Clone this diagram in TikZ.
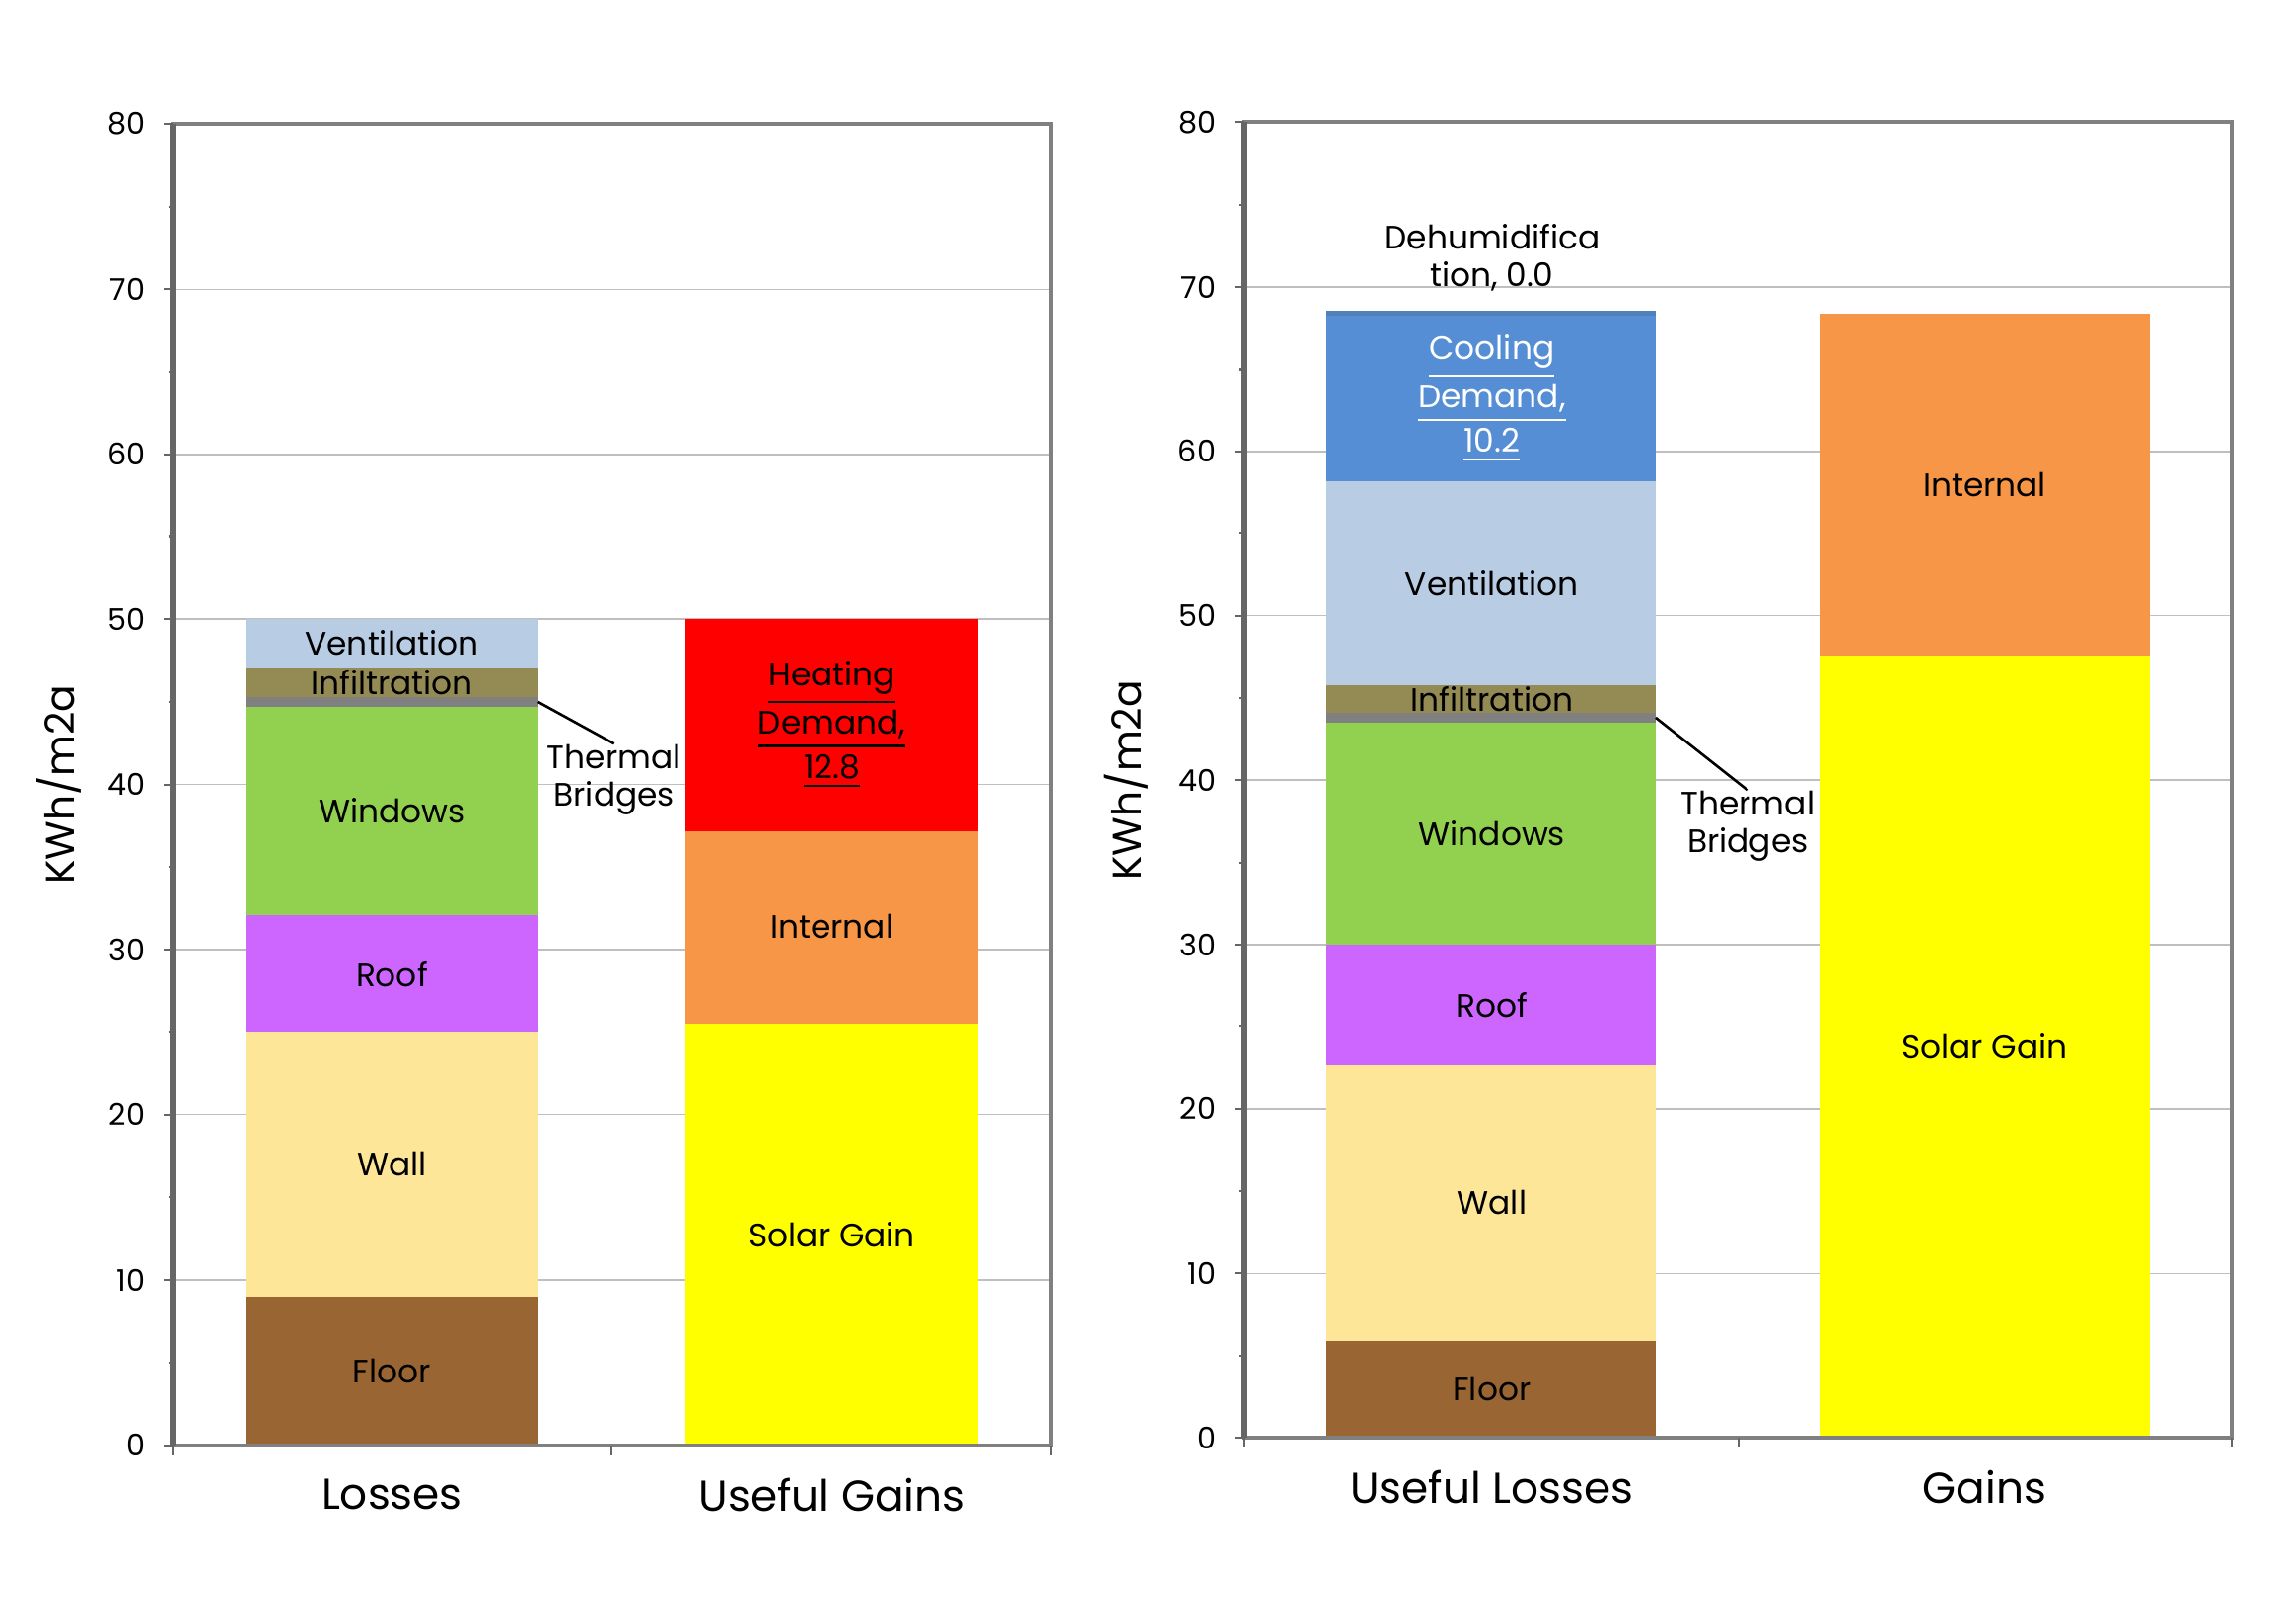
\documentclass[tikz,border=0pt]{standalone}
\usepackage{fontspec}
\setmainfont{Poppins}
\definecolor{cFloor}{RGB}{153,102,51}
\definecolor{cWall}{RGB}{254,230,153}
\definecolor{cRoof}{RGB}{204,102,255}
\definecolor{cWindows}{RGB}{146,208,80}
\definecolor{cBridges}{RGB}{128,128,128}
\definecolor{cInfil}{RGB}{148,138,84}
\definecolor{cVent}{RGB}{184,204,228}
\definecolor{cHeat}{RGB}{255,0,0}
\definecolor{cInternal}{RGB}{247,150,70}
\definecolor{cSolar}{RGB}{255,255,0}
\definecolor{cCool}{RGB}{85,142,213}
\definecolor{cDehum}{RGB}{79,129,189}
\tikzset{
  seg/.style={font=\fontsize{6.3}{7.2}\selectfont, align=center, inner sep=0pt},
  tick/.style={font=\fontsize{5.8}{7}\selectfont, anchor=east, inner sep=0pt},
  cat/.style={font=\fontsize{8.4}{10}\selectfont, inner sep=0pt},
  ylab/.style={font=\fontsize{7.8}{9}\selectfont, rotate=90, inner sep=0pt},
  grid/.style={draw=black!25, line width=0.3pt},
  frame/.style={draw=black!50, line width=0.8pt},
}
\begin{document}
\begin{tikzpicture}
\useasboundingbox (0,0) rectangle (15.6,-11.1);
% Left chart: heating
\begin{scope}[shift={(1.18,-9.88)}, x=0.01cm, y=0.1129cm]
    \foreach \v in {10,20,...,70} \draw[grid] (0,\v) -- (601,\v);
    % Losses
    \fill[cFloor] (50,0) rectangle (250,9);
    \fill[cWall] (50,9) rectangle (250,25);
    \fill[cRoof] (50,25) rectangle (250,32.1);
    \fill[cWindows] (50,32.1) rectangle (250,44.7);
    \fill[cBridges] (50,44.7) rectangle (250,45.3);
    \fill[cInfil] (50,45.3) rectangle (250,47.1);
    \fill[cVent] (50,47.1) rectangle (250,50);
    \node[seg] (FLOORL) at (150,4.5) {Floor};
    \node[seg] (WALLL) at (150,17) {Wall};
    \node[seg] (ROOFL) at (150,28.5) {Roof};
    \node[seg] (WINDL) at (150,38.4) {Windows};
    \node[seg] (INFILL) at (150,46.2) {Infiltration};
    \node[seg] (VENTL) at (150,48.6) {Ventilation};
    \coordinate (TBL) at (250,45.0);
    \node[seg] (BRIDGEL) at (302,40.3) {Thermal\\Bridges};
    \draw[line width=0.5pt] (TBL) -- (BRIDGEL.north);
    % Useful gains
    \fill[cSolar] (351,0) rectangle (551,25.5);
    \fill[cInternal] (351,25.5) rectangle (551,37.2);
    \fill[cHeat] (351,37.2) rectangle (551,50);
    \node[seg] (SOLARL) at (451,12.75) {Solar Gain};
    \node[seg] (INTL) at (451,31.4) {Internal};
    \node[seg] (HEATL) at (451,43.6) {\underline{Heating}\\\underline{Demand,}\\\underline{12.8}};
    % Axes
    \draw[frame] (0,0) rectangle (601,80);
    \draw[draw=black!60, line width=1.2pt] (0,0) -- (0,80);
    \foreach \v in {0,10,...,80} {
        \draw[black!60] (-6,\v) -- (0,\v);
        \node[tick] at (-18,\v) {\v};
    }
    \foreach \v in {5,15,...,75} \draw[black!60] (-3,\v) -- (0,\v);
    \foreach \x in {0,300,601} \draw[black!60] (\x,0) -- (\x,-0.6);
    \node[cat] (LOSSES) at (150,-3) {Losses};
    \node[cat] (GAINSL) at (451,-3) {Useful Gains};
    \node[ylab] (YL) at (-78,40) {KWh/m2a};
\end{scope}
% Right chart: cooling
\begin{scope}[shift={(8.50,-9.83)}, x=0.01cm, y=0.1124cm]
    \foreach \v in {10,20,...,70} \draw[grid] (0,\v) -- (676,\v);
    % Useful losses
    \fill[cFloor] (57,0) rectangle (282,5.9);
    \fill[cWall] (57,5.9) rectangle (282,22.7);
    \fill[cRoof] (57,22.7) rectangle (282,30.0);
    \fill[cWindows] (57,30.0) rectangle (282,43.5);
    \fill[cBridges] (57,43.5) rectangle (282,44.1);
    \fill[cInfil] (57,44.1) rectangle (282,45.8);
    \fill[cVent] (57,45.8) rectangle (282,58.2);
    \fill[cCool] (57,58.2) rectangle (282,68.3);
    \draw[cDehum, line width=1pt] (57,68.4) -- (282,68.4);
    \node[seg] (FLOORR) at (170,2.95) {Floor};
    \node[seg] (WALLR) at (170,14.3) {Wall};
    \node[seg] (ROOFR) at (170,26.35) {Roof};
    \node[seg] (WINDR) at (170,36.75) {Windows};
    \node[seg] (INFILR) at (170,44.95) {Infiltration};
    \node[seg] (VENTR) at (170,52.0) {Ventilation};
    \node[seg, text=white] (COOLR) at (170,63.2) {\underline{Cooling}\\\underline{Demand,}\\\underline{10.2}};
    \node[seg] (DEHUMR) at (170,71.8) {Dehumidifica\\tion, 0.0};
    \coordinate (TBR) at (282,43.8);
    \node[seg] (BRIDGER) at (345,37.2) {Thermal\\Bridges};
    \draw[line width=0.5pt] (TBR) -- (BRIDGER.north);
    % Gains
    \fill[cSolar] (395,0) rectangle (620,47.6);
    \fill[cInternal] (395,47.6) rectangle (620,68.4);
    \node[seg] (SOLARR) at (507,23.8) {Solar Gain};
    \node[seg] (INTR) at (507,58.0) {Internal};
    % Axes
    \draw[frame] (0,0) rectangle (676,80);
    \draw[draw=black!60, line width=1.2pt] (0,0) -- (0,80);
    \foreach \v in {0,10,...,80} {
        \draw[black!60] (-6,\v) -- (0,\v);
        \node[tick] at (-18,\v) {\v};
    }
    \foreach \v in {5,15,...,75} \draw[black!60] (-3,\v) -- (0,\v);
    \foreach \x in {0,339,676} \draw[black!60] (\x,0) -- (\x,-0.6);
    \node[cat] (LOSSESR) at (170,-3) {Useful Losses};
    \node[cat] (GAINSR) at (507,-3) {Gains};
    \node[ylab] (YR) at (-80,40) {KWh/m2a};
\end{scope}
\end{tikzpicture}
\end{document}
